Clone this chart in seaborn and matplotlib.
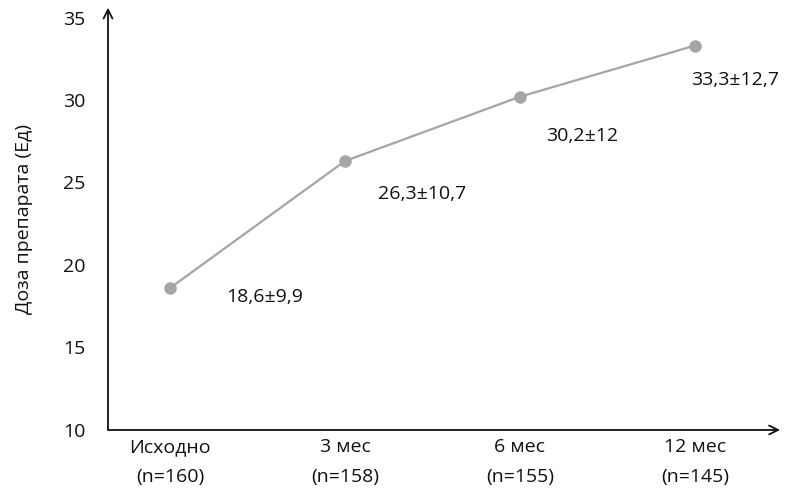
import matplotlib

matplotlib.use("Agg")

import matplotlib.pyplot as plt
import pandas as pd
import seaborn as sns

CATEGORIES = ["Исходно\n(n=160)", "3 мес\n(n=158)", "6 мес\n(n=155)", "12 мес\n(n=145)"]
DOSE_MEAN = [18.6, 26.3, 30.2, 33.3]
DOSE_LABELS = ["18,6±9,9", "26,3±10,7", "30,2±12", "33,3±12,7"]
Y_TICKS = [10, 15, 20, 25, 30, 35]

# label offsets from each point, in pixels
LABEL_OFFSETS = [(95, -9), (77, -33), (62, -39), (40, -34)]

LINE_COLOR = "#a5a5a5"
TEXT_COLOR = "#111111"
FS = 14


def main() -> None:
    sns.set_theme(style="white")
    plt.rcParams["font.family"] = ["Open Sans", "DejaVu Sans"]

    df = pd.DataFrame({"pos": range(len(CATEGORIES)), "dose": DOSE_MEAN})

    fig = plt.figure(figsize=(8, 4.94), dpi=100)
    ax = fig.add_axes([0.135, 0.1296, 0.84, 0.855])

    sns.lineplot(
        data=df, x="pos", y="dose", color=LINE_COLOR, linewidth=1.6,
        marker="o", markersize=9, markeredgewidth=0, ax=ax,
    )

    ax.set_xlim(-0.354, 3.486)
    ax.set_ylim(10, 35.6)
    ax.set_xticks(range(len(CATEGORIES)))
    ax.set_xticklabels(CATEGORIES, fontsize=FS, color=TEXT_COLOR, linespacing=1.8)
    ax.set_yticks(Y_TICKS)
    ax.set_yticklabels([str(t) for t in Y_TICKS], fontsize=FS, color=TEXT_COLOR)
    ax.tick_params(axis="both", length=0)
    ax.tick_params(axis="x", pad=6)
    ax.tick_params(axis="y", pad=16)
    ax.set_xlabel("")
    ax.set_ylabel("Доза препарата (Ед)", fontsize=FS, color=TEXT_COLOR, labelpad=22)

    for side in ax.spines:
        ax.spines[side].set_visible(False)

    arrow = dict(arrowstyle="->", color=TEXT_COLOR, lw=1.3,
                 shrinkA=0, shrinkB=0, mutation_scale=16)
    ax.annotate("", xy=(0, 1), xytext=(0, 0), xycoords="axes fraction",
                arrowprops=arrow)
    ax.annotate("", xy=(1, 0), xytext=(0, 0), xycoords="axes fraction",
                arrowprops=arrow)

    for x, y, text, off in zip(df["pos"], DOSE_MEAN, DOSE_LABELS, LABEL_OFFSETS):
        ax.annotate(text, xy=(x, y), xytext=off, textcoords="offset pixels",
                    ha="center", va="center", fontsize=FS, color=TEXT_COLOR)

    fig.savefig("out.png", dpi=100)
    plt.close(fig)


if __name__ == "__main__":
    main()
